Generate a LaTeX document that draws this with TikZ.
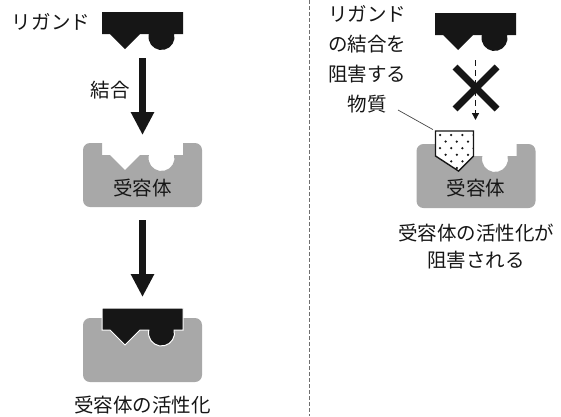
\documentclass[tikz,border=0pt]{standalone}
\usepackage{fontspec}
\newfontfamily\jpfont{Noto Sans CJK JP}
\usetikzlibrary{arrows.meta,calc}

\definecolor{ink}{RGB}{22,22,22}
\definecolor{recgray}{RGB}{168,168,168}
\definecolor{divgray}{RGB}{110,110,110}

% ligand: flat block with a triangular and a round key underneath
% #1 = centre x, #2 = top y
\newcommand\ligshape[2]{%
  (#1-40.5,#2) -- (#1+40.5,#2) -- (#1+40.5,#2+22) -- (#1+31.65,#2+22)
  arc[start angle=-13.3, end angle=193.3, radius=13]
  -- (#1-2.5,#2+22) -- (#1-17.5,#2+37) -- (#1-32.5,#2+22) -- (#1-40.5,#2+22) -- cycle}

% receptor: rounded block with the matching pocket cut into its top
% #1 = centre x, #2 = top y, #3 = x offset where the left flank of the V pocket starts
\newcommand\recshape[3]{%
  (#1-40.5,#2) -- (#1-52.5,#2) arc[start angle=270, end angle=180, radius=7]
  -- (#1-59.5,#2+57) arc[start angle=180, end angle=90, radius=7]
  -- (#1+52.5,#2+64) arc[start angle=90, end angle=0, radius=7]
  -- (#1+59.5,#2+7) arc[start angle=0, end angle=-90, radius=7]
  -- (#1+40.5,#2) -- (#1+40.5,#2+12) -- (#1+31.65,#2+12)
  arc[start angle=-13.3, end angle=193.3, radius=13]
  -- (#1-2.5,#2+12) -- (#1-17.5,#2+27) -- (#1#3,#2+12) -- (#1-40.5,#2+12) -- cycle}

% blocking substance: pentagon that plugs the V pocket
\newcommand\inhshape[2]{%
  (#1-40.5,#2-13) -- (#1-2.5,#2-13) -- (#1-2.5,#2+12) -- (#1-17.5,#2+27) -- (#1-40.5,#2+12) -- cycle}

\tikzset{
  lbl/.style={font=\jpfont\fontsize{19.5}{30}\selectfont, text=ink, inner sep=0pt, align=center},
  hitbox/.style={inner sep=0pt, outer sep=0pt, draw=none},
  ligfill/.style={fill=ink},
  recfill/.style={fill=recgray},
  bigarrow/.style={draw=ink, line width=7pt, -{Triangle[width=22pt,length=23pt]}},
  dasharrow/.style={draw=ink, line width=1.3pt, dash pattern=on 6pt off 4pt, -{Triangle[width=7pt,length=7pt]}},
  crossline/.style={draw=ink, line width=7pt},
  divider/.style={draw=divgray, line width=0.8pt, dash pattern=on 4pt off 2pt},
  leader/.style={draw=ink!80, line width=0.7pt},
}

\begin{document}
\begin{tikzpicture}[x=1pt, y=-1pt]
\useasboundingbox (0,0) rectangle (561,416);

% ---------- left column: ligand binds and activates the receptor ----------
\fill[ligfill] \ligshape{142.5}{12};
\node[hitbox, minimum width=81pt, minimum height=38pt, anchor=north] (ligA) at (142.5,12) {};
\node[lbl] (ligAlabel) at (51,22) {リガンド};

\fill[recfill] \recshape{142.5}{143}{-32.5};
\node[hitbox, minimum width=119pt, minimum height=64pt, anchor=north] (recA) at (142.5,143) {};
\node[lbl] (recAtext) at (142.5,188) {受容体};

\draw[bigarrow, shorten <=8pt, shorten >=8pt] (ligA.south) -- (recA.north);
\node[lbl] (bindlabel) at (110,90) {結合};

\fill[recfill] \recshape{142.5}{318}{-32.5};
\node[hitbox, minimum width=119pt, minimum height=64pt, anchor=north] (recC) at (142.5,318) {};
\fill[ligfill, draw=white, line width=1pt] \ligshape{142.5}{308};
\node[hitbox, minimum width=81pt, minimum height=38pt, anchor=north] (ligC) at (142.5,308) {};

\draw[bigarrow, shorten <=13pt, shorten >=11pt] (recA.south) -- (ligC.north);
\node[lbl] (activelabel) at (142.5,405) {受容体の活性化};

% ---------- divider ----------
\coordinate (divtop) at (309,0);
\coordinate (divbot) at (309,416);
\draw[divider] (divtop) -- (divbot);

% ---------- right column: the pocket is blocked ----------
\fill[ligfill] \ligshape{475.5}{13};
\node[hitbox, minimum width=81pt, minimum height=38pt, anchor=north] (ligB) at (475.5,13) {};

\fill[recfill] \recshape{476}{144}{-40.5};
\node[hitbox, minimum width=119pt, minimum height=64pt, anchor=north] (recB) at (476,144) {};
\node[lbl] (recBtext) at (476,188) {受容体};

% blocking substance with speckled filling
\fill[white] \inhshape{476}{144};
\begin{scope}
  \clip \inhshape{476}{144};
  \foreach \r in {0,...,5} {
    \pgfmathsetmacro{\yy}{135+6.6*\r}
    \pgfmathsetmacro{\xs}{440+5.6*mod(\r,2)}
    \foreach \c in {0,...,3} {
      \fill[ink] (\xs+11.2*\c,\yy) circle[radius=1.25];
    }
  }
\end{scope}
\draw[ink, line width=1.4pt, line join=miter] \inhshape{476}{144};
\node[hitbox, minimum width=38pt, minimum height=40pt, anchor=north west] (inhib) at (435.5,131) {};

\draw[dasharrow, shorten <=9pt, shorten >=11pt] (ligB.south) -- (ligB.south |- inhib.north);

\coordinate (block) at (476,88);
\draw[crossline] ($(block)+(-21,-21)$) -- ($(block)+(21,21)$);
\draw[crossline] ($(block)+(21,-21)$) -- ($(block)+(-21,21)$);

\node[lbl] (inhlabel) at (367,59) {リガンド\\の結合を\\阻害する\\物質};
\coordinate (leadstart) at (398,110);
\draw[leader, shorten >=3pt] (leadstart) -- (inhib.north west);

\node[lbl, font=\jpfont\fontsize{19.5}{27}\selectfont] (blocklabel) at (476,246.5) {受容体の活性化が\\阻害される};
\end{tikzpicture}
\end{document}
